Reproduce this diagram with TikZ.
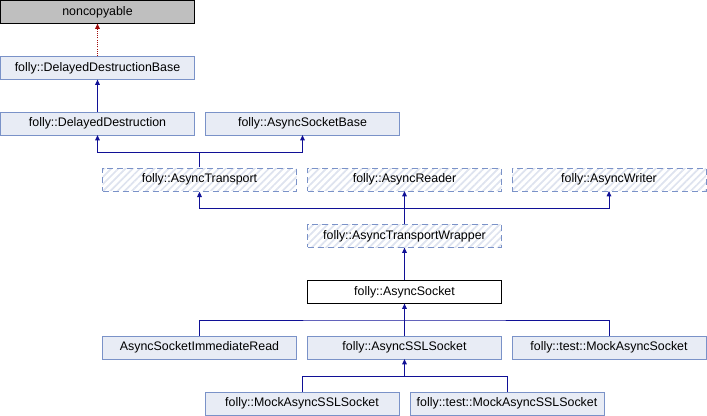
\documentclass[tikz,border=0pt]{standalone}
\usepackage{fontspec}
\setmainfont{Liberation Sans}
\usepackage{xcolor}
\usetikzlibrary{arrows.meta, patterns.meta, calc}

\definecolor{boxfill}{RGB}{232,236,245}
\definecolor{boxline}{RGB}{122,146,200}
\definecolor{hatch}{RGB}{222,227,239}
\definecolor{inhline}{RGB}{16,16,150}
\definecolor{privline}{RGB}{160,10,10}

\begin{document}
\begin{tikzpicture}[x=0.75pt, y=-0.75pt,
  cls/.style={draw=boxline, fill=boxfill, minimum width=145.5pt, minimum height=17pt,
    inner sep=0pt, font=\fontsize{9.3pt}{11pt}\selectfont},
  ext/.style={cls, fill=gray!50, draw=black},
  cur/.style={cls, fill=white, draw=black},
  undoc/.style={cls, fill=white, dash pattern=on 4.5pt off 3pt,
    pattern={Lines[angle=45, distance=3.8pt, line width=1.3pt]}, pattern color=hatch},
  edge/.style={draw=inhline, line width=0.7pt},
  inh/.style={edge, -{Triangle[length=4pt, width=3.5pt]}},
  priv/.style={draw=privline, line width=0.7pt, densely dotted, -{Triangle[length=4pt, width=3.5pt]}}
]
\useasboundingbox (0,0) rectangle (707,416);

% Base classes
\node[ext] (nc) at (97.5,12) {noncopyable};
\node[cls] (ddb) at (97.5,68) {folly::DelayedDestructionBase};
\node[cls] (dd) at (97.5,123.5) {folly::DelayedDestruction};
\node[cls] (asb) at (302.5,123.5) {folly::AsyncSocketBase};

% Interfaces
\node[undoc] (at) at (199.5,179.5) {folly::AsyncTransport};
\node[undoc] (ar) at (404.5,179.5) {folly::AsyncReader};
\node[undoc] (aw) at (609,179.5) {folly::AsyncWriter};
\node[undoc] (atw) at (404.5,236) {folly::AsyncTransportWrapper};

% This class
\node[cur] (as) at (404.5,292) {folly::AsyncSocket};

% Derived classes
\node[cls] (asir) at (199.5,347.5) {AsyncSocketImmediateRead};
\node[cls] (assl) at (404.5,347.5) {folly::AsyncSSLSocket};
\node[cls] (tmas) at (609,347.5) {folly::test::MockAsyncSocket};
\node[cls] (mass) at (302,403.5) {folly::MockAsyncSSLSocket};
\node[cls] (tmass) at (507,403.5) {folly::test::MockAsyncSSLSocket};

% Junctions
\coordinate (j1) at (199.5,152);
\coordinate (j2) at (404.5,208);
\coordinate (j3) at (404.5,320);
\coordinate (j4) at (404.5,376);

% Inheritance
\draw[priv] (ddb.north) -- (nc.south);
\draw[inh] (dd.north) -- (ddb.south);
\draw[edge] (at.north) -- (j1);
\draw[inh] (j1) -| (dd.south);
\draw[inh] (j1) -| (asb.south);
\draw[inh] (atw.north) -- (ar.south);
\draw[inh] (j2) -| (at.south);
\draw[inh] (j2) -| (aw.south);
\draw[inh] (as.north) -- (atw.south);
\draw[inh] (assl.north) -- (as.south);
\draw[edge] (asir.north) |- (j3) -| (tmas.north);
\draw[inh] (mass.north) |- (j4) -- (assl.south);
\draw[edge] (tmass.north) |- (j4);
\end{tikzpicture}
\end{document}
